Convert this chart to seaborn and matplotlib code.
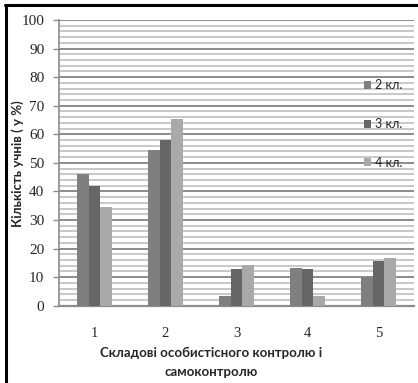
import matplotlib
matplotlib.use("Agg")
import matplotlib.pyplot as plt
from matplotlib.lines import Line2D
from matplotlib.ticker import MultipleLocator
import seaborn as sns
import pandas as pd

categories = ["1", "2", "3", "4", "5"]
series_names = ["2 кл.", "3 кл.", "4 кл."]
values_2 = [46, 54.5, 3.4, 13.2, 10]
values_3 = [42, 58, 12.8, 12.8, 15.6]
values_4 = [34.7, 65.3, 14.2, 3.4, 16.6]
y_ticks = [0, 10, 20, 30, 40, 50, 60, 70, 80, 90, 100]
y_label = "Кількість учнів ( у %)"
x_label = "Складові особистісного контролю і\nсамоконтролю"

rows = []
for name, vals in zip(series_names, [values_2, values_3, values_4]):
    for c, v in zip(categories, vals):
        rows.append({"cat": c, "series": name, "value": v})
df = pd.DataFrame(rows)

sns.set_style("white")
plt.rcParams["font.family"] = ["Lato", "DejaVu Sans"]

fig = plt.figure(figsize=(4.18, 3.83), dpi=100)
ax = fig.add_axes([59/418, 1-305.7/383, (414-59)/418, (305.7-20)/383])

palette = {"2 кл.": "#7f7f7f", "3 кл.": "#666666", "4 кл.": "#a9a9a9"}
sns.barplot(data=df, x="cat", y="value", hue="series", order=categories,
            hue_order=series_names, palette=palette, width=0.5, gap=0,
            saturation=1, ax=ax, edgecolor="none", linewidth=0, zorder=3)

ax.set_ylim(0, 100)
ax.set_xlim(-0.5, 4.5)
ax.set_yticks(y_ticks)
ax.yaxis.set_minor_locator(MultipleLocator(2))
ax.grid(axis="y", which="minor", color="#c4c4c4", linewidth=1.3, zorder=0)
ax.grid(axis="y", which="major", color="#8c8c8c", linewidth=1.4, zorder=0)
ax.set_axisbelow(True)

for s in ["top", "right"]:
    ax.spines[s].set_visible(False)
ax.spines["left"].set_color("#8c8c8c")
ax.spines["left"].set_linewidth(1.2)
ax.spines["bottom"].set_color("#8c8c8c")
ax.spines["bottom"].set_linewidth(1.6)

ax.tick_params(axis="y", which="major", direction="out", length=4.5, width=1.0,
               color="#8c8c8c", pad=6, labelsize=11, left=True)
ax.tick_params(axis="y", which="minor", length=0)
ax.tick_params(axis="x", length=0, pad=15, labelsize=10.5)
for lab in ax.get_yticklabels() + ax.get_xticklabels():
    lab.set_family(["Liberation Serif"])

ax.set_xlabel("")
ax.set_ylabel("")

fig.text(18/418, 1-164/383, y_label, rotation=90, ha="center", va="center",
         fontsize=9.5, fontweight="bold")
fig.text(211/418, 1-362.5/383, x_label, ha="center", va="center",
         fontsize=9.5, fontweight="bold", linespacing=1.7)

leg = ax.legend(loc="center left", bbox_to_anchor=(0.86, 0.636), frameon=False,
                fontsize=9, handlelength=0.55, handleheight=0.6,
                handletextpad=0.3, labelspacing=2.15, borderpad=0,
                borderaxespad=0)

fig.add_artist(Line2D([5/418, 1], [1-5/383, 1-5/383], color="black", lw=2.2,
                      transform=fig.transFigure))
fig.add_artist(Line2D([6/418, 6/418], [0, 1-5/383], color="black", lw=2.2,
                      transform=fig.transFigure))

fig.savefig("out.png", dpi=100)
